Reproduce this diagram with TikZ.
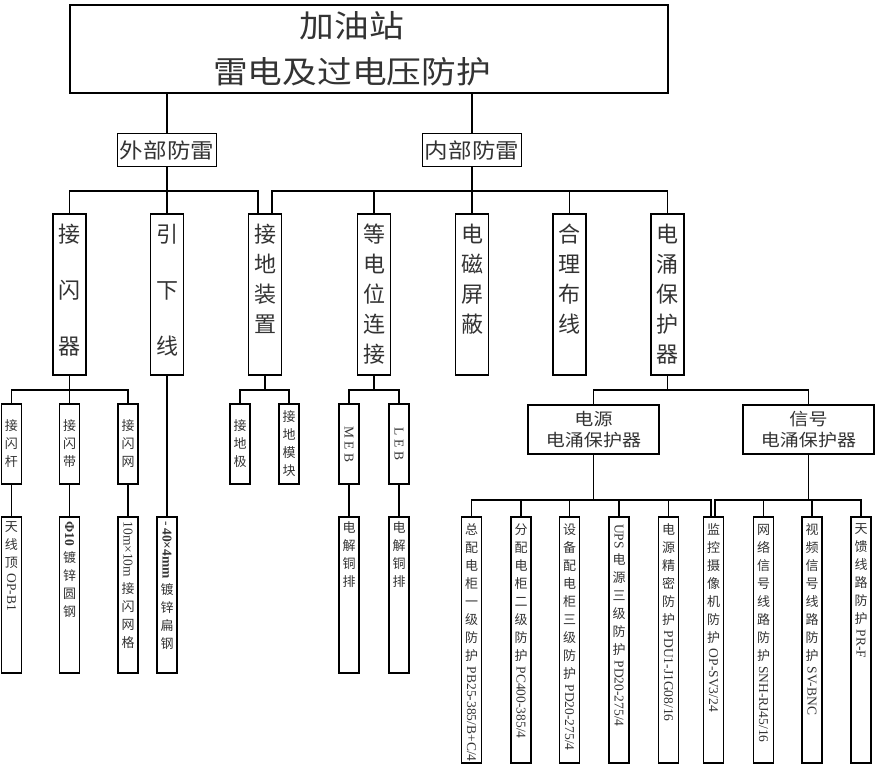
\documentclass[tikz,border=0pt]{standalone}
\usepackage{fontspec}
\usepackage{graphicx}
\setmainfont{Liberation Serif}
\newfontfamily\cjk{Noto Sans CJK SC}
\newfontfamily\cjkw{Noto Sans CJK SC}[FakeStretch=1.12]
\newfontfamily\latn{Liberation Serif}

\makeatletter
\newcommand\vstk[3]{\hbox to 0pt{\hss\vbox #1{\hsize=40pt\parindent=0pt\parskip=0pt
  \centering\baselineskip=#2\lineskip=5pt\lineskiplimit=4pt
  \@tfor\vch:=#3\do{\leavevmode\vch\par}\vfil}\hss}}
\makeatother
\newcommand\rot[1]{\raisebox{12pt}{\rotatebox{-90}{\latn\fontsize{13.5}{18}\selectfont #1}}}

\tikzset{
  titlebox/.style={draw, minimum width=598, minimum height=88, align=center,
    font=\cjkw\fontsize{31}{46}\selectfont},
  partbox/.style={draw, minimum width=99, minimum height=33, inner sep=0pt,
    font=\cjkw\fontsize{21}{25}\selectfont},
  itembox/.style={draw, minimum width=33, minimum height=161, inner sep=0pt,
    font=\cjk\fontsize{22}{30}\selectfont},
  subbox/.style={draw, minimum width=20, minimum height=80, inner sep=0pt,
    font=\cjk\fontsize{13}{18}\selectfont},
  leafbox/.style={draw, minimum width=20, minimum height=#1, inner sep=0pt,
    font=\cjk\fontsize{13}{18}\selectfont},
  spdbox/.style={draw, minimum width=131, minimum height=49, align=center,
    font=\cjkw\fontsize{17}{21}\selectfont},
}

\begin{document}
\begin{tikzpicture}[x=1pt, y=-1pt, line width=1.2pt, text=black!80]
\useasboundingbox (0,0) rectangle (876,768);

\coordinate (bus-a) at (0,191);
\coordinate (bus-b) at (0,390);
\coordinate (bus-c) at (0,500);

\node [titlebox] (top) at (369,49) {加油站\hspace*{34pt}\\雷电及过电压防护\hspace*{34pt}};

\node [partbox] (outer) at (167,150) {外部防雷};
\node [partbox] (inner) at (472,150) {内部防雷};

\node [itembox] (jsq) at (69.5,294.5) {\vstk{to 141pt}{56pt}{接闪器}};
\node [itembox] (yxx) at (167,294.5) {\vstk{to 141pt}{56pt}{引下线}};
\node [itembox] (jdzz) at (265,294.5) {\vstk{to 141pt}{30pt}{接地装置}};
\node [itembox] (ddw) at (374,294.5) {\vstk{to 141pt}{30pt}{等电位连接}};
\node [itembox] (dcpb) at (472,294.5) {\vstk{to 141pt}{30pt}{电磁屏蔽}};
\node [itembox] (hlbx) at (569.5,294.5) {\vstk{to 141pt}{30pt}{合理布线}};
\node [itembox] (dybh) at (667.5,294.5) {\vstk{to 141pt}{30pt}{电涌保护器}};

\node [subbox] (jsg) at (11.5,444) {\vstk{spread 0pt}{18pt}{接闪杆}};
\node [subbox] (jsd) at (69.5,444) {\vstk{spread 0pt}{18pt}{接闪带}};
\node [subbox] (jsw) at (128,444) {\vstk{spread 0pt}{18pt}{接闪网}};
\node [subbox] (jdj) at (240,444) {\vstk{spread 0pt}{18pt}{接地极}};
\node [subbox] (jdmk) at (289,444) {\vstk{spread 0pt}{18pt}{接地模块}};
\node [subbox] (meb) at (349,444) {\vstk{spread 0pt}{18pt}{{\rot{M E B}}}};
\node [subbox] (leb) at (399,444) {\vstk{spread 0pt}{18pt}{{\rot{L E B}}}};

\node [spdbox] (dy) at (593.5,429.5) {电源\\电涌保护器};
\node [spdbox] (xh) at (808.5,429.5) {信号\\电涌保护器};

\node [leafbox=156] (txd) at (11.5,595) {\vstk{to 147pt}{18pt}{天线顶{\rot{OP-B1}}}};
\node [leafbox=156] (ygy) at (69.5,595) {\vstk{to 147pt}{18pt}{{\rot{\bfseries Φ10}}镀锌圆钢}};
\node [leafbox=156] (wgg) at (128,595) {\vstk{to 147pt}{18pt}{{\rot{10m×10m}}接闪网格}};
\node [leafbox=156] (bgg) at (167,595) {\vstk{to 147pt}{18pt}{{\rot{-\,\bfseries 40×4mm}}镀锌扁钢}};
\node [leafbox=156] (tpa) at (349,595) {\vstk{to 147pt}{18pt}{电解铜排}};
\node [leafbox=156] (tpb) at (399,595) {\vstk{to 147pt}{18pt}{电解铜排}};

\node [leafbox=246] (zpd) at (471.5,640) {\vstk{to 232pt}{18pt}{总配电柜一级防护{\rot{PB25-385/B+C/4}}}};
\node [leafbox=246] (fpd) at (521,640) {\vstk{to 232pt}{18pt}{分配电柜二级防护{\rot{PC400-385/4}}}};
\node [leafbox=246] (sbpd) at (569.5,640) {\vstk{to 232pt}{18pt}{设备配电柜三级防护{\rot{PD20-275/4}}}};
\node [leafbox=246] (ups) at (619,640) {\vstk{to 232pt}{18pt}{{\rot{UPS}}电源三级防护{\rot{PD20-275/4}}}};
\node [leafbox=246] (jmfh) at (668.5,640) {\vstk{to 232pt}{18pt}{电源精密防护{\rot{PDU1-J1G08/16}}}};
\node [leafbox=246] (jkfh) at (713.5,640) {\vstk{to 232pt}{18pt}{监控摄像机防护{\rot{OP-SV3/24}}}};
\node [leafbox=246] (wlfh) at (763.5,640) {\vstk{to 232pt}{18pt}{网络信号线路防护{\rot{SNH-RJ45/16}}}};
\node [leafbox=246] (spfh) at (812,640) {\vstk{to 232pt}{18pt}{视频信号线路防护{\rot{SV-BNC}}}};
\node [leafbox=246] (tkfh) at (861,640) {\vstk{to 232pt}{18pt}{天馈线路防护{\rot{PR-F}}}};

\draw (outer.north) -- (outer.north |- top.south);
\draw (inner.north) -- (inner.north |- top.south);

\draw (jsq.north) -- (jsq.north |- bus-a) -- ([xshift=-7]jdzz.north |- bus-a) -- ([xshift=-7]jdzz.north);
\draw (outer.south) -- (yxx.north);
\draw ([xshift=7]jdzz.north) -- ([xshift=7]jdzz.north |- bus-a) -- (dybh.north |- bus-a) -- (dybh.north);
\draw (ddw.north) -- (ddw.north |- bus-a);
\draw (inner.south) -- (dcpb.north);
\draw (hlbx.north) -- (hlbx.north |- bus-a);

\draw (jsg.north) -- (jsg.north |- bus-b) -- (jsw.north |- bus-b) -- (jsw.north);
\draw (jsq.south) -- (jsd.north);
\draw (jdj.north) -- (jdj.north |- bus-b) -- (jdmk.north |- bus-b) -- (jdmk.north);
\draw (jdzz.south) -- (jdzz.south |- bus-b);
\draw (meb.north) -- (meb.north |- bus-b) -- (leb.north |- bus-b) -- (leb.north);
\draw (ddw.south) -- (ddw.south |- bus-b);
\draw (dy.north) -- (dy.north |- bus-b) -- (xh.north |- bus-b) -- (xh.north);
\draw (dybh.south) -- (dybh.south |- bus-b);

\draw (jsg.south) -- (txd.north);
\draw (jsd.south) -- (ygy.north);
\draw (jsw.south) -- (wgg.north);
\draw (yxx.south) -- (bgg.north);
\draw (meb.south) -- (tpa.north);
\draw (leb.south) -- (tpb.north);

\draw (zpd.north) -- (zpd.north |- bus-c) -- ([xshift=-2.5]jkfh.north |- bus-c) -- ([xshift=-2.5]jkfh.north);
\draw (dy.south) -- (dy.south |- bus-c);
\draw (fpd.north) -- (fpd.north |- bus-c);
\draw (sbpd.north) -- (sbpd.north |- bus-c);
\draw (ups.north) -- (ups.north |- bus-c);
\draw (jmfh.north) -- (jmfh.north |- bus-c);
\draw ([xshift=1.5]jkfh.north) -- ([xshift=1.5]jkfh.north |- bus-c) -- (tkfh.north |- bus-c) -- (tkfh.north);
\draw (xh.south) -- (xh.south |- bus-c);
\draw (wlfh.north) -- (wlfh.north |- bus-c);
\draw (spfh.north) -- (spfh.north |- bus-c);

\end{tikzpicture}
\end{document}
